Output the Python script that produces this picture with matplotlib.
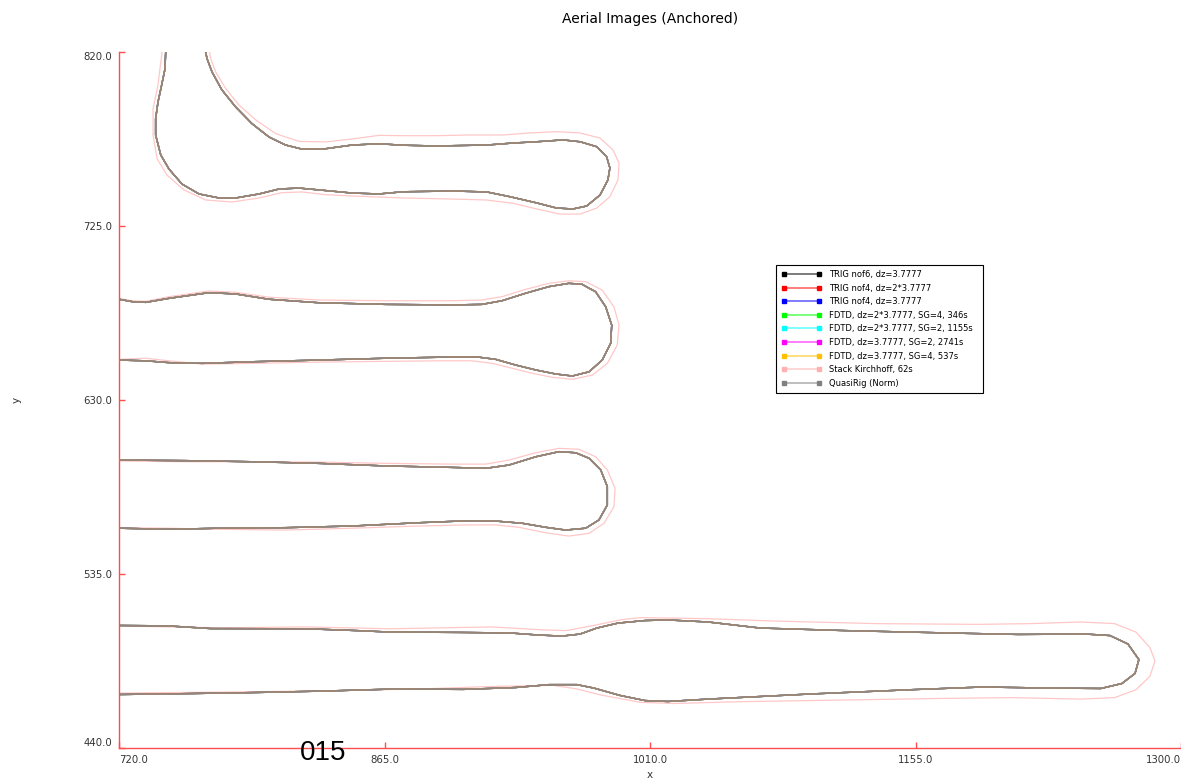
import matplotlib
matplotlib.use("Agg")
import matplotlib.pyplot as plt
from matplotlib.lines import Line2D
from matplotlib.colors import to_rgba

# ---------------- data (x, y in data units) ----------------
# Shape A (top hook) - common contour of the simulations
A_x = [745.5, 745.1, 743.3, 741.3, 740.0, 740.0, 742.8, 747.3, 754.4, 763.7, 774.6, 783.7,
       796.5, 807.4, 818.3, 829.2, 847.2, 862.0, 875.1, 902.4, 920.8, 933.5, 948.1, 959.0,
       967.9, 975.4, 982.7, 987.0, 988.1, 986.3, 980.9, 971.8, 962.5, 948.1, 935.2, 920.8,
       893.5, 875.1, 862.0, 847.2, 832.9, 819.9, 811.0, 801.9, 792.6, 783.7, 776.2, 770.8,
       768.1, 767.3]
A_y = [820.0, 810.7, 802.0, 792.7, 783.6, 774.7, 763.8, 756.1, 747.9, 742.5, 740.3, 740.3,
       742.5, 745.2, 745.7, 744.7, 743.0, 742.5, 743.7, 744.1, 743.6, 741.0, 737.6, 734.8,
       734.3, 735.9, 741.9, 750.1, 756.7, 762.8, 768.3, 771.0, 772.0, 771.0, 770.3, 769.2,
       768.7, 769.1, 769.9, 769.2, 767.2, 767.0, 769.2, 773.6, 780.9, 790.0, 799.3, 809.1,
       816.3, 820.0]
# Shape A - Stack Kirchhoff contour
AK_x = [743.5, 741.3, 738.6, 738.6, 740.8, 746.2, 755.5, 767.3, 781.7, 796.5, 809.0, 819.9,
        832.9, 847.2, 862.0, 875.1, 902.4, 920.8, 935.2, 948.1, 960.8, 971.8, 980.9, 988.1,
        992.5, 993.1, 989.8, 982.7, 971.8, 959.0, 944.4, 929.7, 911.7, 893.5, 875.1, 862.0,
        847.2, 832.9, 818.3, 805.6, 794.7, 785.5, 778.3, 772.8, 770.1, 769.5]
AK_y = [820.0, 802.0, 789.0, 774.7, 761.7, 752.8, 744.7, 739.2, 738.1, 740.3, 743.2, 743.6,
        742.1, 741.4, 740.8, 740.3, 739.7, 739.2, 737.4, 734.3, 731.5, 731.5, 734.8, 741.0,
        750.1, 759.4, 766.5, 773.0, 775.8, 776.5, 775.8, 774.7, 774.7, 774.3, 774.3, 774.5,
        772.5, 770.9, 771.2, 775.4, 782.9, 791.1, 800.0, 809.1, 816.3, 820.0]

# Shape B
B_x = [720.0, 727.1, 734.6, 747.3, 769.1, 783.7, 801.9, 829.2, 865.6, 901.9, 918.2, 929.2,
       942.1, 954.8, 965.7, 972.8, 980.3, 985.8, 989.1, 988.5, 983.9, 976.7, 967.6, 958.5,
       947.6, 936.6, 925.7, 914.8, 893.0, 865.6, 829.2, 792.8, 765.5, 747.3, 734.6, 720.0]
B_y = [685.0, 683.7, 683.3, 685.5, 688.6, 687.9, 685.0, 683.1, 682.2, 681.9, 682.2, 684.2,
       688.3, 691.9, 693.7, 693.2, 689.1, 680.9, 670.9, 660.9, 651.8, 645.4, 643.1, 644.2,
       646.4, 649.1, 652.2, 653.6, 653.3, 652.8, 651.8, 650.9, 650.0, 650.4, 651.4, 651.8]
BK_x = [720.0, 727.1, 734.6, 747.3, 769.1, 783.7, 801.9, 829.2, 865.6, 901.9, 918.2, 929.2,
        942.1, 954.8, 965.7, 974.9, 983.9, 990.3, 993.1, 992.1, 986.7, 978.5, 967.6, 956.6,
        945.7, 934.8, 923.9, 912.9, 893.0, 865.6, 829.2, 792.8, 765.5, 747.3, 734.6, 720.0]
BK_y = [685.5, 684.2, 683.9, 686.4, 689.5, 688.8, 686.1, 684.6, 684.2, 684.2, 684.6, 686.4,
        690.4, 693.7, 695.1, 694.6, 690.0, 680.9, 670.9, 660.0, 650.0, 643.6, 641.3, 642.4,
        644.6, 647.3, 650.0, 651.4, 651.4, 651.1, 650.7, 650.0, 649.6, 651.4, 652.8, 652.2]

# Shape C
C_x = [720.0, 756.4, 792.8, 829.2, 865.6, 901.9, 920.3, 933.0, 947.6, 960.3, 969.4, 976.7,
       983.1, 986.7, 986.7, 982.1, 974.9, 963.9, 953.0, 940.2, 925.7, 911.1, 883.8, 847.4,
       811.0, 774.6, 747.3, 720.0]
C_y = [597.2, 596.9, 596.3, 595.4, 594.0, 593.2, 592.7, 594.5, 599.0, 601.8, 601.2, 598.2,
       591.8, 582.7, 572.7, 564.5, 560.0, 559.0, 560.5, 562.7, 563.9, 564.1, 563.0, 561.2,
       560.3, 560.0, 559.4, 560.0]
CK_x = [720.0, 756.4, 792.8, 829.2, 865.6, 901.9, 920.3, 933.0, 947.6, 960.3, 971.2, 980.3,
        986.7, 990.9, 990.3, 984.9, 976.7, 965.7, 953.0, 938.4, 925.7, 911.1, 883.8, 847.4,
        811.0, 774.6, 747.3, 720.0]
CK_y = [596.7, 596.3, 596.3, 596.1, 595.4, 595.0, 595.0, 597.2, 601.2, 603.6, 603.1, 599.0,
        591.8, 581.8, 571.7, 562.7, 557.2, 555.7, 557.5, 560.5, 561.8, 561.8, 561.2, 560.0,
        559.0, 559.4, 560.0, 560.3]

# Shape D (bottom, long)
D_x = [720.0, 746.2, 770.2, 822.1, 850.0, 868.0, 906.2, 933.5, 948.8, 961.9, 971.8, 981.0,
       992.5, 1007.3, 1019.8, 1041.7, 1070.1, 1116.5, 1172.7, 1211.0, 1248.1, 1261.2, 1271.0,
       1277.0, 1274.9, 1267.7, 1256.3, 1229.5, 1191.8, 1154.2, 1097.9, 1041.7, 1019.8, 1007.3,
       993.6, 979.4, 970.1, 954.8, 936.3, 907.9, 870.2, 832.5, 794.8, 757.7, 720.0]
D_y = [506.9, 506.7, 505.2, 505.1, 504.1, 503.3, 503.1, 502.8, 501.7, 501.1, 502.2, 505.5,
       508.2, 509.6, 509.9, 508.8, 505.5, 504.1, 502.8, 502.0, 502.2, 501.4, 496.8, 488.3,
       480.7, 475.2, 472.5, 472.7, 473.3, 471.9, 469.5, 466.7, 465.4, 465.9, 468.7, 472.7,
       474.6, 474.6, 473.0, 472.0, 472.2, 471.1, 470.3, 469.7, 469.2]
DK_x = [720.0, 775.5, 821.8, 868.0, 923.6, 951.4, 964.3, 979.2, 994.0, 1005.1, 1041.5, 1078.6,
        1134.1, 1189.7, 1217.4, 1245.2, 1263.7, 1275.4, 1283.0, 1285.8, 1283.0, 1275.4, 1263.7,
        1245.2, 1208.2, 1171.2, 1115.6, 1060.1, 1023.0, 1005.1, 982.8, 969.9, 957.0, 923.6,
        886.6, 831.1, 775.5, 720.0]
DK_y = [506.6, 505.6, 506.1, 505.1, 506.1, 504.5, 504.1, 506.9, 510.0, 511.2, 510.6, 509.3,
        507.9, 507.5, 507.9, 508.8, 507.9, 503.3, 494.9, 487.5, 479.1, 471.8, 467.5, 466.7,
        467.5, 467.1, 466.2, 465.3, 464.3, 464.9, 469.0, 472.3, 474.2, 473.6, 472.3, 471.2,
        470.5, 470.0]

series_labels = ["TRIG nof6, dz=3.7777", "TRIG nof4, dz=2*3.7777", "TRIG nof4, dz=3.7777",
                 "FDTD, dz=2*3.7777, SG=4, 346s", "FDTD, dz=2*3.7777, SG=2, 1155s",
                 "FDTD, dz=3.7777, SG=2, 2741s", "FDTD, dz=3.7777, SG=4, 537s",
                 "Stack Kirchhoff, 62s", "QuasiRig (Norm)"]
series_colors = ["#000000", "#ff0000", "#0000ff", "#00ff00", "#00ffff",
                 "#ff00ff", "#ffc000", "#ffb0b0", "#808080"]

x_ticks = [720.0, 865.0, 1010.0, 1155.0, 1300.0]
y_ticks = [440.0, 535.0, 630.0, 725.0, 820.0]

# ---------------- figure ----------------
fig = plt.figure(figsize=(11.81, 7.82), dpi=100)
ax = fig.add_axes([119 / 1181, 1 - 748 / 782, 1062 / 1181, 696 / 782])

main_shapes = [(A_x, A_y), (B_x, B_y), (C_x, C_y), (D_x, D_y)]
kirch_shapes = [(AK_x, AK_y), (BK_x, BK_y), (CK_x, CK_y), (DK_x, DK_y)]

for label, color in zip(series_labels, series_colors):
    if label.startswith("Stack Kirchhoff"):
        for sx, sy in kirch_shapes:
            ax.plot(sx, sy, color=color, lw=0.9, alpha=0.7, zorder=2,
                    solid_joinstyle="round")
    else:
        a = 0.8 if color == "#808080" else 0.7
        for sx, sy in main_shapes:
            ax.plot(sx, sy, color=color, lw=1.0, alpha=a, zorder=3,
                    solid_joinstyle="round", solid_capstyle="round")

ax.set_xlim(x_ticks[0], x_ticks[-1])
ax.set_ylim(y_ticks[0], y_ticks[-1])
ax.set_xticks(x_ticks)
ax.set_yticks(y_ticks)
ax.set_xticklabels([f"{v:.1f}" for v in x_ticks])
ax.set_yticklabels([f"{v:.1f}" for v in y_ticks])

spine_col = "#ff4d4d"
for s in ["top", "right"]:
    ax.spines[s].set_visible(False)
for s in ["left", "bottom"]:
    ax.spines[s].set_color(spine_col)
    ax.spines[s].set_linewidth(1.0)
ax.tick_params(axis="both", direction="in", length=4, width=1.0, color=spine_col,
               labelsize=7.3, labelcolor="#333333", pad=5)

xt = ax.get_xticklabels()
xt[0].set_horizontalalignment("left")
xt[-1].set_horizontalalignment("right")
yt = ax.get_yticklabels()
yt[0].set_verticalalignment("bottom")
yt[-1].set_verticalalignment("top")

ax.set_xlabel("x", fontsize=7.5, color="#333333")
ax.set_ylabel("y", fontsize=7.5, color="#333333")
ax.xaxis.set_label_coords(0.5, -(770 - 748) / 696)
ax.yaxis.set_label_coords((22 - 119) / 1062, 0.5)

ax.set_title("Aerial Images (Anchored)", fontsize=10, pad=21)

handles = []
for label, color in zip(series_labels, series_colors):
    handles.append(Line2D([0, 1], [0, 0], color=to_rgba(color, 0.6), lw=1.2,
                          marker="s", markersize=3.2, markerfacecolor=color,
                          markeredgecolor=color))
lx0 = (776 - 119) / 1062
ly1 = (748 - 265) / 696
lw_ = (983 - 776) / 1062
lh_ = (394 - 265) / 696
leg = ax.legend(handles, series_labels, loc="upper left",
                bbox_to_anchor=(lx0, ly1 - lh_, lw_, lh_), mode="expand",
                borderaxespad=0, fontsize=6.0, labelspacing=0.55, handlelength=4.9,
                handletextpad=0.9, borderpad=0.6, fancybox=False, framealpha=1,
                edgecolor="#000000", numpoints=2)
leg.get_frame().set_linewidth(0.8)

fig.text(323 / 1181, 1 - 753 / 782, "015", fontsize=20, family="Liberation Sans",
         ha="center", va="center", color="#000000")

fig.savefig("out.png", dpi=100)
